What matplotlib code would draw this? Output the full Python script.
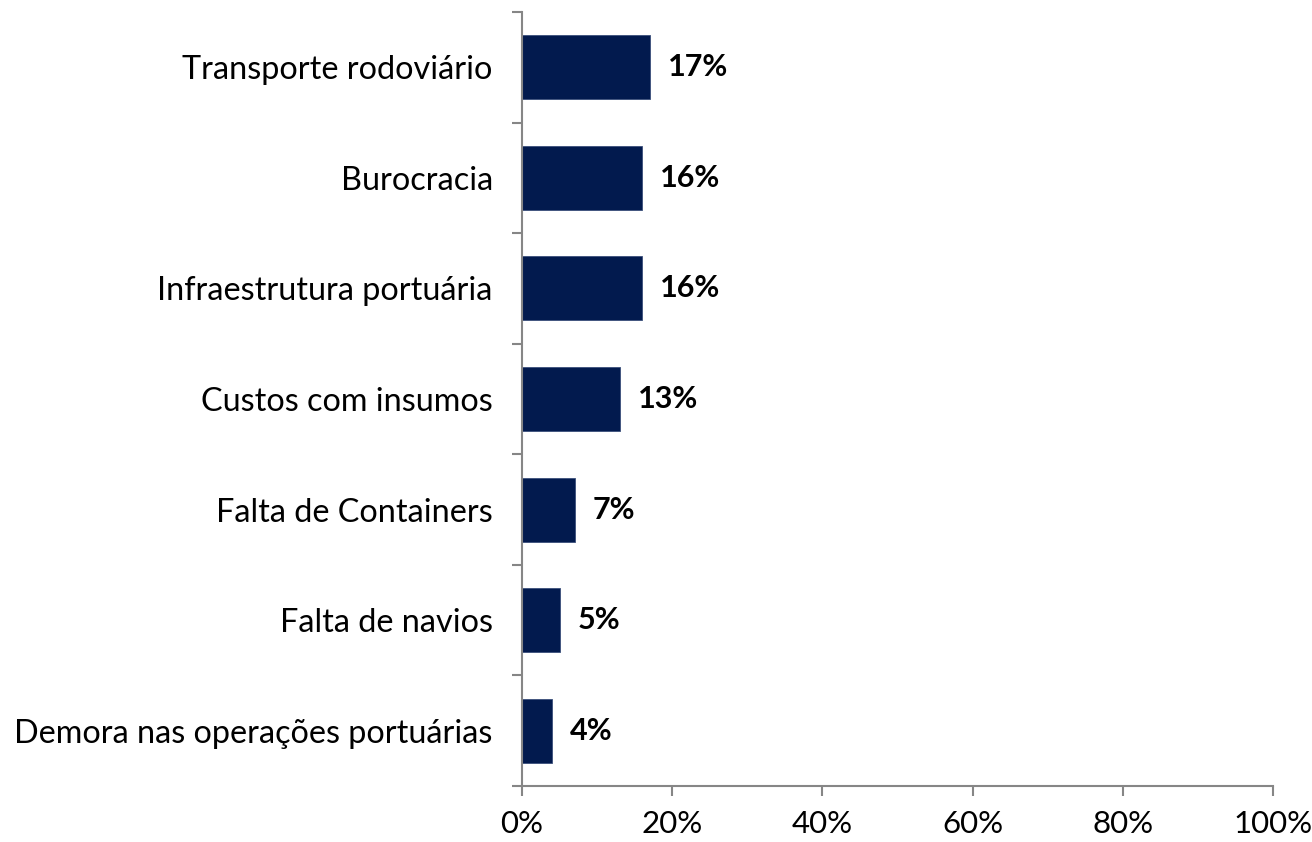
import matplotlib
matplotlib.use("Agg")
import matplotlib.pyplot as plt
from matplotlib.ticker import FuncFormatter, FixedLocator

# ---------------------------------------------------------------------------
# Data
# ---------------------------------------------------------------------------
categories = [
    "Transporte rodoviário",
    "Burocracia",
    "Infraestrutura portuária",
    "Custos com insumos",
    "Falta de Containers",
    "Falta de navios",
    "Demora nas operações portuárias",
]
values = [17, 16, 16, 13, 7, 5, 4]
xticks = [0, 20, 40, 60, 80, 100]

BAR_COLOR = "#021a4e"
AXIS_COLOR = "#868686"
FONT = "Lato"

plt.rcParams["font.family"] = [FONT, "DejaVu Sans"]

fig = plt.figure(figsize=(13.12, 8.42), dpi=100)
ax = fig.add_axes([522 / 1312, 1 - 786 / 842, (1273 - 522) / 1312, (786 - 12) / 842])

n = len(categories)
ypos = list(range(n))[::-1]
ax.barh(ypos, values, height=0.58, color=BAR_COLOR, edgecolor="#3a4f7a", linewidth=0.6)

for y, v in zip(ypos, values):
    ax.text(v + 2.4, y, f"{v}%", va="center", ha="left",
            fontsize=22, fontweight="bold", color="black")

ax.set_xlim(0, 100)
ax.set_ylim(-0.5, n - 0.5)
ax.xaxis.set_major_locator(FixedLocator(xticks))
ax.xaxis.set_major_formatter(FuncFormatter(lambda x, p: f"{int(x)}%"))

# category labels at bar centres, tick marks at boundaries
ax.set_yticks(ypos)
ax.set_yticklabels(categories)
ax.set_yticks([i - 0.5 for i in range(n + 1)], minor=True)
ax.tick_params(axis="y", which="major", length=0, pad=21, labelsize=23.3)
ax.tick_params(axis="y", which="minor", length=7, width=1.5, color=AXIS_COLOR)
ax.tick_params(axis="x", length=7, width=1.5, color=AXIS_COLOR, labelsize=22.5, pad=10)

for side in ("top", "right"):
    ax.spines[side].set_visible(False)
for side in ("left", "bottom"):
    ax.spines[side].set_color(AXIS_COLOR)
    ax.spines[side].set_linewidth(1.5)

plt.savefig("out.png", dpi=100)
plt.close()
